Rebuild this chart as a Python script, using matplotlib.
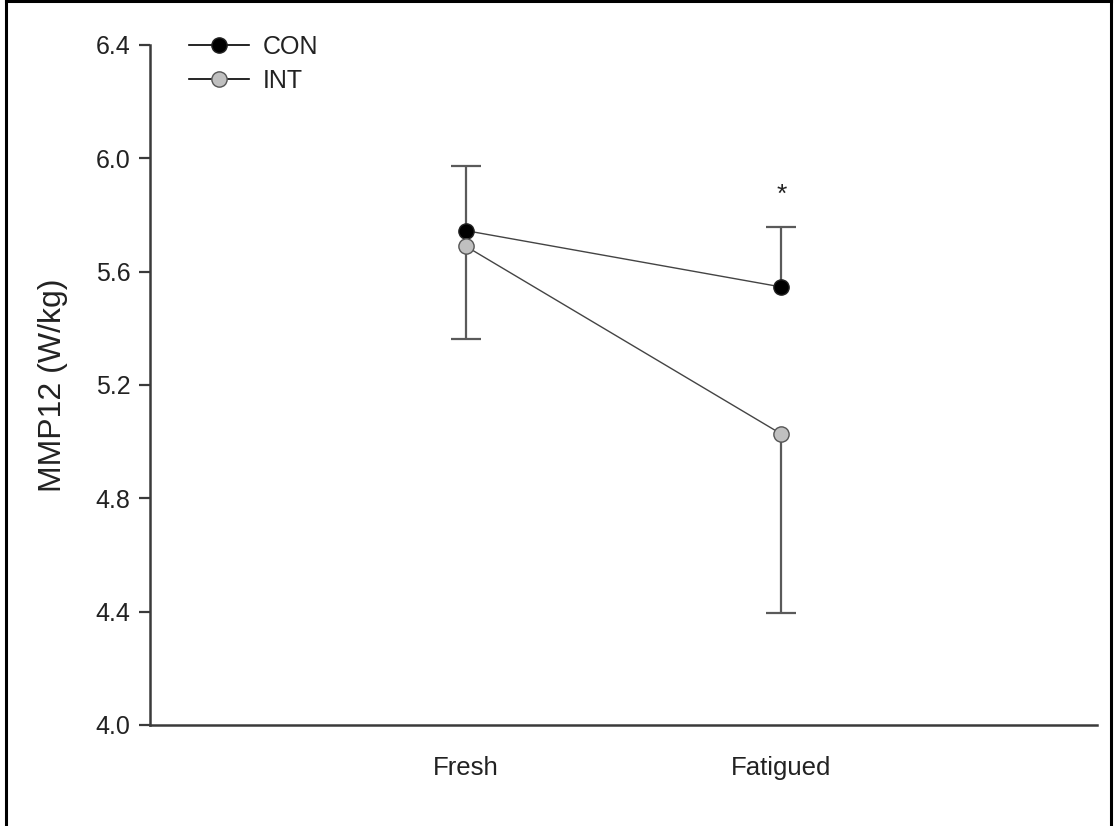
#!/usr/bin/env python3
import matplotlib
matplotlib.use("Agg")
import matplotlib.pyplot as plt
from matplotlib.lines import Line2D

# -----------------------------
# data
# -----------------------------
conditions = ["Fresh", "Fatigued"]
x_pos = [1, 2]

con_mean = [5.745, 5.546]
con_err_up = [0.228, 0.212]      # CON: error bar drawn upward only

int_mean = [5.690, 5.027]
int_err_down = [0.328, 0.632]    # INT: error bar drawn downward only

star_x = 2
star_y = 5.87

y_ticks = [4.0, 4.4, 4.8, 5.2, 5.6, 6.0, 6.4]

# -----------------------------
# style
# -----------------------------
plt.rcParams["font.family"] = ["Liberation Sans", "DejaVu Sans"]
txt_col = "#222222"
err_col = "#5a5a5a"
line_col = "#444444"
spine_col = "#3a3a3a"

fig = plt.figure(figsize=(11.14, 8.26), dpi=100)
ax = fig.add_axes([150 / 1114, 1 - 725 / 826, (1097 - 150) / 1114, (725 - 45) / 826])

# one-sided error bars: stem + cap at the far end only
con_tip = [m + e for m, e in zip(con_mean, con_err_up)]
int_tip = [m - e for m, e in zip(int_mean, int_err_down)]
ax.errorbar(x_pos, con_mean, yerr=[[0, 0], con_err_up], fmt="none",
            ecolor=err_col, elinewidth=1.6, capsize=0, zorder=2)
ax.errorbar(x_pos, int_mean, yerr=[int_err_down, [0, 0]], fmt="none",
            ecolor=err_col, elinewidth=1.6, capsize=0, zorder=2)
ax.plot(x_pos, con_tip, ls="none", marker="_", ms=21, mew=1.6, color=err_col, zorder=2)
ax.plot(x_pos, int_tip, ls="none", marker="_", ms=21, mew=1.6, color=err_col, zorder=2)

ax.plot(x_pos, con_mean, color=line_col, lw=1.0, marker="o", ms=11,
        mfc="black", mec="#222222", mew=1.0, zorder=3, label="CON")
ax.plot(x_pos, int_mean, color=line_col, lw=1.0, marker="o", ms=11,
        mfc="#c0c0c0", mec="#555555", mew=1.0, zorder=3, label="INT")

ax.text(star_x, star_y, "*", ha="center", va="center", fontsize=19, color=txt_col)

ax.set_xlim(0, 3)
ax.set_ylim(4.0, 6.4)
ax.set_xticks(x_pos)
ax.set_xticklabels(conditions)
ax.set_yticks(y_ticks)
ax.set_yticklabels([f"{v:.1f}" for v in y_ticks])

ax.tick_params(axis="y", direction="out", length=8, width=1.6, color=spine_col,
               labelsize=18, labelcolor=txt_col, pad=6)
ax.tick_params(axis="x", length=0, labelsize=18.5, labelcolor=txt_col, pad=22)

for side in ["top", "right"]:
    ax.spines[side].set_visible(False)
for side in ["left", "bottom"]:
    ax.spines[side].set_color(spine_col)
    ax.spines[side].set_linewidth(1.8)

ax.set_ylabel("MMP12 (W/kg)", fontsize=23, color=txt_col, labelpad=20)

# legend
handles = [
    Line2D([0], [0], color="black", lw=1.2, marker="o", ms=11, mfc="black", mec="#222222"),
    Line2D([0], [0], color="black", lw=1.2, marker="o", ms=11, mfc="#c0c0c0", mec="#555555"),
]
leg = ax.legend(handles, ["CON", "INT"], loc="upper left", bbox_to_anchor=(0.031, 1.03),
                frameon=False, fontsize=18, handlelength=2.4, handletextpad=0.55,
                labelspacing=0.42, borderaxespad=0)
for t in leg.get_texts():
    t.set_color(txt_col)

# outer frame around the figure
frame_kw = dict(color="black", lw=2.2, transform=fig.transFigure, clip_on=False)
fig.add_artist(Line2D([6 / 1114, 6 / 1114], [0, 1 - 1 / 826], **frame_kw))
fig.add_artist(Line2D([6 / 1114, 1 - 3 / 1114], [1 - 1 / 826, 1 - 1 / 826], **frame_kw))
fig.add_artist(Line2D([1 - 3 / 1114, 1 - 3 / 1114], [0, 1 - 1 / 826], **frame_kw))

fig.savefig("out.png", dpi=100, facecolor="white")
